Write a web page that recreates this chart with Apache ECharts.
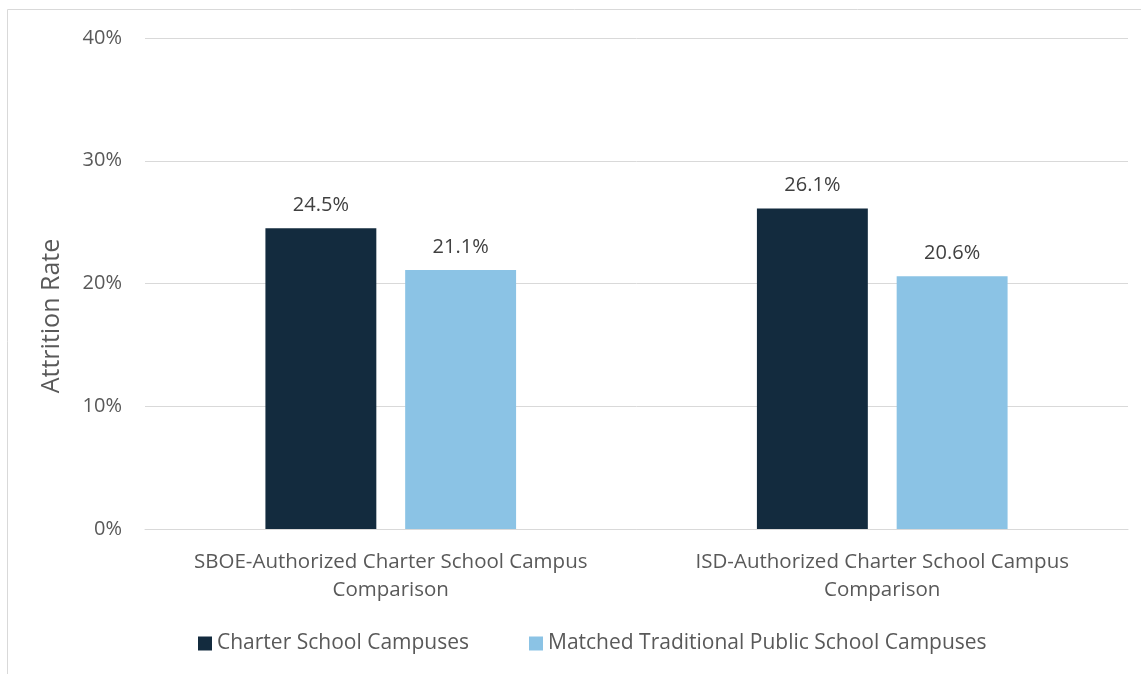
<!DOCTYPE html>
<html><head><meta charset="utf-8">
<script src="https://cdn.jsdelivr.net/npm/echarts@6/dist/echarts.min.js"></script>
<style>html,body{margin:0;padding:0;background:#fff}#c{width:1143px;height:674px}</style>
</head><body><div id="c"></div>
<script>
var categories = ['SBOE-Authorized Charter School Campus\nComparison', 'ISD-Authorized Charter School Campus\nComparison'];
var charterValues = [24.5, 26.1];
var matchedValues = [21.1, 20.6];
var seriesNames = ['Charter School Campuses', 'Matched Traditional Public School Campuses'];
var yTicks = [0, 10, 20, 30, 40];

var FONT = 'Open Sans';
var chart = echarts.init(document.getElementById('c'), null, {renderer: 'canvas'});
var labelStyle = {show: true, position: 'top', distance: 13, formatter: function (p) { return p.value.toFixed(1) + '%'; }, color: '#404040', fontSize: 20, fontFamily: FONT};
chart.setOption({
  animation: false,
  grid: {left: 145, right: 15, top: 38, bottom: 145},
  graphic: [
    {type: 'line', shape: {x1: 7.5, y1: 9.5, x2: 1141, y2: 9.5}, style: {stroke: '#d9d9d9', lineWidth: 1}},
    {type: 'line', shape: {x1: 7.5, y1: 9.5, x2: 7.5, y2: 674}, style: {stroke: '#d9d9d9', lineWidth: 1}},
    {type: 'text', x: 52, y: 316, rotation: Math.PI / 2, style: {text: 'Attrition Rate', fill: '#595959', font: '25px "Open Sans"', textAlign: 'center', textVerticalAlign: 'middle'}}
  ],
  legend: {
    bottom: 15, left: 193, itemWidth: 14, itemHeight: 14, itemGap: 60,
    icon: 'rect',
    textStyle: {color: '#595959', fontSize: 21, fontFamily: FONT},
    data: seriesNames
  },
  xAxis: {
    type: 'category', data: categories,
    axisLine: {lineStyle: {color: '#d9d9d9', width: 1}},
    axisTick: {show: false},
    axisLabel: {color: '#595959', fontSize: 20.5, fontFamily: FONT, lineHeight: 28, margin: 19, interval: 0}
  },
  yAxis: {
    type: 'value', min: yTicks[0], max: yTicks[yTicks.length - 1], interval: 10,
    axisLine: {show: false}, axisTick: {show: false},
    splitLine: {lineStyle: {color: '#d9d9d9', width: 1}},
    axisLabel: {color: '#595959', fontSize: 20, fontFamily: FONT, margin: 23, formatter: '{value}%'}
  },
  series: [
    {name: seriesNames[0], type: 'bar', data: charterValues, itemStyle: {color: '#132b3e'}, barGap: '26%', barCategoryGap: '49%', label: labelStyle},
    {name: seriesNames[1], type: 'bar', data: matchedValues, itemStyle: {color: '#8bc3e5'}, label: labelStyle}
  ]
});
</script></body></html>
